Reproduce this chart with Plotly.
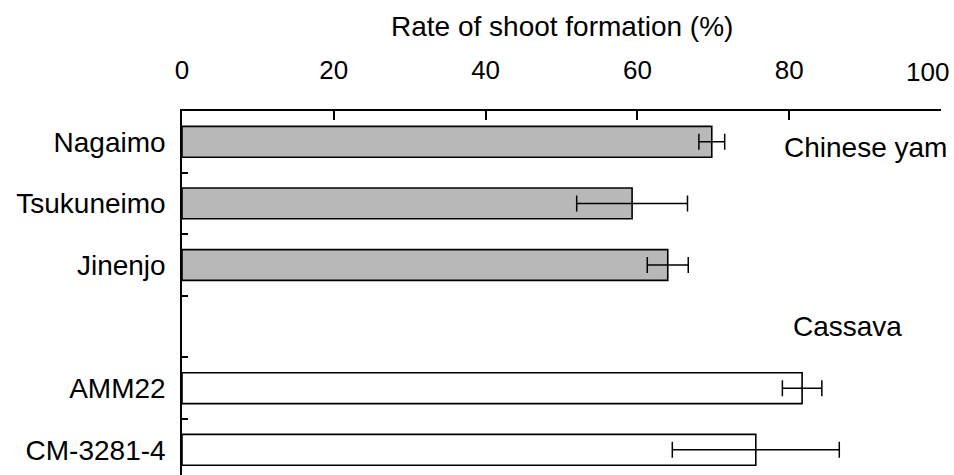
import plotly.graph_objects as go

# ---- data ----
categories = ["Nagaimo", "Tsukuneimo", "Jinenjo", " ", "AMM22", "CM-3281-4"]
yam_names = ["Nagaimo", "Tsukuneimo", "Jinenjo"]
yam_rates = [69.8, 59.3, 64.0]
yam_errors = [1.7, 7.3, 2.7]
cassava_names = ["AMM22", "CM-3281-4"]
cassava_rates = [81.7, 75.6]
cassava_errors = [2.6, 11.0]
x_ticks = [0, 20, 40, 60, 80, 100]
x_title = "Rate of shoot formation (%)"
group_labels = ["Chinese yam", "Cassava"]

FONT = "Liberation Sans, Arial, sans-serif"

fig = go.Figure()
fig.add_trace(go.Bar(
    y=yam_names, x=yam_rates, orientation="h", width=0.5,
    marker=dict(color="#b8b8b8", line=dict(color="black", width=1.6)),
    error_x=dict(type="data", array=yam_errors, visible=True,
                 color="black", thickness=1.5, width=8),
    showlegend=False,
))
fig.add_trace(go.Bar(
    y=cassava_names, x=cassava_rates, orientation="h", width=0.5,
    marker=dict(color="white", line=dict(color="black", width=1.6)),
    error_x=dict(type="data", array=cassava_errors, visible=True,
                 color="black", thickness=1.5, width=8),
    showlegend=False,
))

# last tick label drawn separately so it stays inside the page
tick_text = [str(v) for v in x_ticks[:-1]] + [""]

fig.update_layout(
    width=954, height=475,
    margin=dict(l=182, r=13, t=111, b=0),
    paper_bgcolor="white", plot_bgcolor="white",
    font=dict(family=FONT, size=28, color="black"),
    xaxis=dict(
        side="top", range=[0, 100], tickvals=x_ticks, ticktext=tick_text,
        showline=True, linecolor="black", linewidth=1.5,
        ticks="inside", ticklen=9, tickwidth=1.5, tickcolor="black",
        showgrid=False, zeroline=False, automargin=False,
        tickfont=dict(size=26), ticklabelstandoff=20,
    ),
    yaxis=dict(
        type="category", categoryarray=categories, categoryorder="array",
        range=[5.409, -0.5],
        showline=True, linecolor="black", linewidth=1.5,
        ticks="inside", tickson="boundaries", ticklen=6, tickwidth=1.5,
        tickcolor="black", showgrid=False, zeroline=False, automargin=False,
        tickfont=dict(size=28), ticklabelstandoff=9,
    ),
    bargap=0.5,
    annotations=[
        dict(text=x_title, xref="paper", yref="paper", x=0.5, y=1,
             yshift=85, xanchor="center", yanchor="middle",
             showarrow=False, font=dict(size=28)),
        dict(text=str(x_ticks[-1]), x=x_ticks[-1], xref="x", yref="paper",
             y=1, yshift=39, xshift=10, xanchor="right", yanchor="middle",
             showarrow=False, font=dict(size=26)),
        dict(text=group_labels[0], x=90.1, y=0, yshift=-6,
             xanchor="center", yanchor="middle", showarrow=False,
             font=dict(size=28)),
        dict(text=group_labels[1], x=87.7, y=3,
             xanchor="center", yanchor="middle", showarrow=False,
             font=dict(size=28)),
    ],
)

fig.write_html(
    "out.html",
    config={"displayModeBar": False},
    post_script="document.body.style.margin='0';document.body.style.overflow='hidden';",
)
